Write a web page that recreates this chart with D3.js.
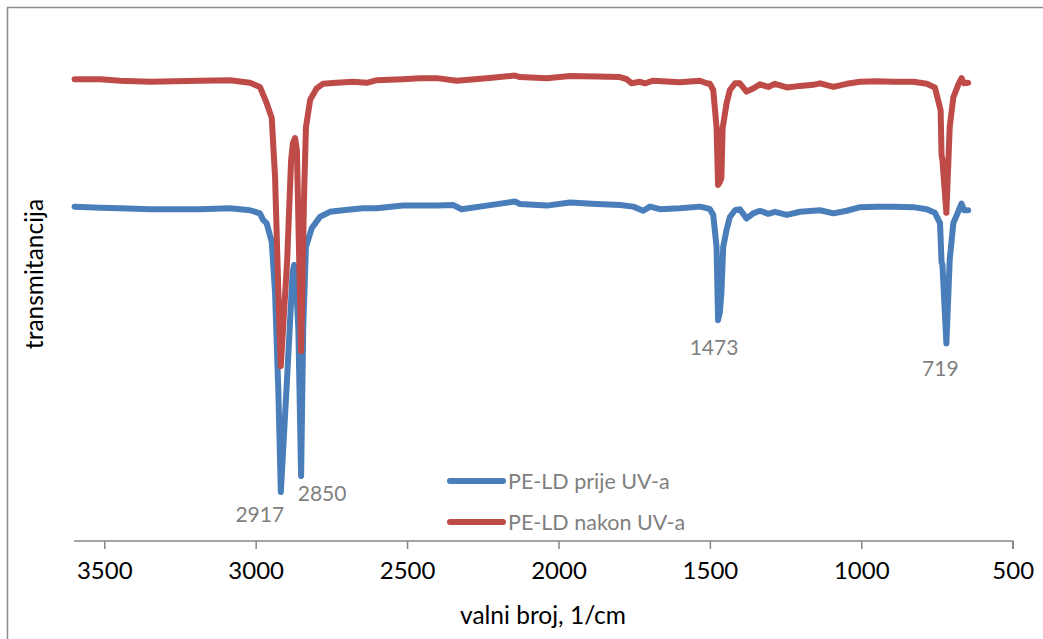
<!DOCTYPE html>
<html>
<head>
<meta charset="utf-8">
<script src="https://cdn.jsdelivr.net/npm/d3@7"></script>
<style>
  html, body { margin: 0; padding: 0; background: #fff; }
  svg { display: block; font-family: Lato, "Open Sans", sans-serif; }
</style>
</head>
<body>
<svg id="chart" width="1043" height="639"></svg>
<script>
// FTIR spectrum of PE-LD before and after UV exposure (wavenumber, 1/cm vs. transmittance)
const wavenumberBefore = [3598, 3514, 3448, 3349, 3184, 3085, 3019, 2986, 2975, 2964, 2947, 2936, 2925, 2917,
  2896, 2883, 2878, 2873, 2868, 2859, 2850, 2843, 2834, 2815, 2788, 2755, 2712, 2646, 2600, 2514, 2457, 2402, 2347, 2320,
  2237, 2144, 2127, 2039, 1962, 1874, 1797, 1753, 1720, 1698, 1665, 1599, 1533, 1511, 1500, 1489, 1478, 1473,
  1467, 1462, 1456, 1445, 1434, 1417, 1401, 1379, 1357, 1335, 1307, 1285, 1246, 1202, 1159, 1136, 1092, 1048,
  1004, 949, 894, 828, 784, 757, 740, 735, 732, 719, 708, 696, 680, 669, 661, 647];
const transBefore = [64.8, 64.6, 64.5, 64.3, 64.3, 64.5, 64.1, 63.5, 62.2, 61.6, 58.0, 48.1, 28.7, 9.5,
  31.8, 46.5, 52.1, 53.5, 51.6, 40.9, 12.6, 41.5, 57.0, 60.6, 62.8, 63.8, 64.1, 64.5, 64.5, 65.0, 65.0, 65.0, 65.1, 64.3,
  65.0, 65.8, 65.3, 65.0, 65.6, 65.3, 65.1, 64.8, 64.0, 64.8, 64.3, 64.5, 64.8, 64.5, 64.3, 63.2, 57.0, 42.8,
  44.4, 48.1, 57.0, 60.3, 62.8, 64.1, 64.3, 62.5, 63.5, 64.0, 63.4, 63.8, 63.2, 63.8, 64.0, 64.1, 63.5, 64.0,
  64.7, 64.8, 64.8, 64.7, 64.3, 63.6, 61.6, 54.1, 53.5, 38.3, 54.5, 61.6, 63.8, 65.4, 64.1, 64.1];

const wavenumberAfter = [3598, 3514, 3448, 3349, 3184, 3085, 3019, 2986, 2964, 2947, 2936, 2925, 2917,
  2896, 2883, 2877, 2870, 2864, 2859, 2850, 2840, 2834, 2820, 2799, 2778, 2755, 2733, 2679, 2633, 2600, 2514, 2457,
  2402, 2336, 2237, 2144, 2127, 2039, 1962, 1874, 1797, 1775, 1758, 1731, 1714, 1687, 1599, 1533, 1511,
  1500, 1489, 1478, 1473, 1467, 1462, 1458, 1445, 1434, 1417, 1401, 1379, 1357, 1335, 1307, 1285, 1246,
  1202, 1159, 1136, 1092, 1048, 1004, 949, 894, 828, 784, 757, 738, 735, 732, 719, 708, 696, 680, 669, 661, 647];
const transAfter = [89.5, 89.5, 89.2, 89.0, 89.2, 89.3, 88.8, 88.0, 84.9, 82.0, 70.5, 48.1, 33.9,
  54.5, 73.8, 77.1, 78.1, 75.8, 62.2, 36.8, 67.4, 80.2, 85.5, 87.7, 88.6, 88.7, 88.8, 89.0, 88.8, 89.3, 89.5, 89.7,
  89.7, 89.2, 89.7, 90.2, 89.9, 89.7, 90.1, 90.0, 89.9, 89.5, 88.7, 89.0, 88.7, 89.2, 88.9, 89.2, 88.7,
  88.6, 87.4, 80.2, 69.0, 69.6, 70.3, 80.0, 84.8, 87.4, 88.7, 88.7, 87.1, 87.7, 88.5, 88.0, 88.6, 87.9,
  88.2, 88.4, 88.7, 88.0, 88.6, 89.0, 89.1, 89.0, 89.0, 88.6, 87.9, 83.5, 74.8, 73.8, 63.6, 80.2, 86.0, 88.4, 89.7, 88.7, 88.8];

const seriesNames = ["PE-LD prije UV-a", "PE-LD nakon UV-a"];
const seriesColors = ["#4a7ebb", "#be4b48"];
const xTicks = [3500, 3000, 2500, 2000, 1500, 1000, 500];
const peakLabels = [
  { series: 0, wavenumber: 2917, text: "2917" },
  { series: 0, wavenumber: 2850, text: "2850" },
  { series: 0, wavenumber: 1473, text: "1473" },
  { series: 0, wavenumber: 719, text: "719" }
];
const xTitle = "valni broj, 1/cm";
const yTitle = "transmitancija";

const series = [
  wavenumberBefore.map((w, i) => ({ w, t: transBefore[i] })),
  wavenumberAfter.map((w, i) => ({ w, t: transAfter[i] }))
];

const svg = d3.select("#chart");

// outer chart frame
svg.append("rect")
  .attr("x", 7.5).attr("y", 7.5)
  .attr("width", 1100).attr("height", 700)
  .attr("fill", "none").attr("stroke", "#8c8c8c").attr("stroke-width", 1.5);

const x = d3.scaleLinear().domain([3600, 500]).range([74, 1012.7]);
const y = d3.scaleLinear().domain([0, 100]).range([541, 25]);

// x axis
const axisY = 541;
const gx = svg.append("g").attr("transform", `translate(0,${axisY})`);
gx.call(d3.axisBottom(x).tickValues(xTicks).tickSize(8).tickPadding(13).tickFormat(d3.format("d")));
gx.select(".domain").attr("stroke", "#868686").attr("stroke-width", 1.5)
  .attr("d", `M${x(3600)},0H${x(500)}V8`);
gx.selectAll(".tick line").attr("stroke", "#868686").attr("stroke-width", 1.5);
gx.selectAll(".tick text").attr("fill", "#000").style("font-size", "24px")
  .style("font-family", "Lato, sans-serif");

// spectra
const line = d3.line().x(d => x(d.w)).y(d => y(d.t));
series.forEach((data, i) => {
  svg.append("path")
    .datum(data)
    .attr("d", line)
    .attr("fill", "none")
    .attr("stroke", seriesColors[i])
    .attr("stroke-width", 6)
    .attr("stroke-linejoin", "round")
    .attr("stroke-linecap", "round");
});

// peak labels below the minima of the first spectrum
const labelOffsets = { "2917": [-21, 22], "2850": [21, 17], "1473": [-4, 26], "719": [-6, 24] };
peakLabels.forEach(p => {
  const d = series[p.series].find(v => v.w === p.wavenumber);
  const off = labelOffsets[p.text];
  svg.append("text")
    .attr("x", x(d.w) + off[0])
    .attr("y", y(d.t) + off[1])
    .attr("text-anchor", "middle")
    .attr("dominant-baseline", "central")
    .attr("fill", "#7f7f7f")
    .style("font-size", "21px")
    .text(p.text);
});

// legend
const legend = svg.append("g").attr("transform", "translate(450,481)");
seriesNames.forEach((name, i) => {
  const row = legend.append("g").attr("transform", `translate(0,${i * 41})`);
  row.append("line").attr("x1", 0).attr("x2", 53).attr("y1", 0).attr("y2", 0)
    .attr("stroke", seriesColors[i]).attr("stroke-width", 6).attr("stroke-linecap", "round");
  row.append("text").attr("x", 58).attr("y", 0).attr("dominant-baseline", "central")
    .attr("fill", "#7f7f7f").style("font-size", "21.5px").text(name);
});

// axis titles
svg.append("text")
  .attr("x", 543).attr("y", 614)
  .attr("text-anchor", "middle").attr("dominant-baseline", "central")
  .attr("fill", "#000").style("font-size", "24.5px")
  .text(xTitle);

svg.append("text")
  .attr("transform", "translate(33,274) rotate(-90)")
  .attr("text-anchor", "middle").attr("dominant-baseline", "central")
  .attr("fill", "#000").style("font-size", "24.5px")
  .text(yTitle);
</script>
</body>
</html>
